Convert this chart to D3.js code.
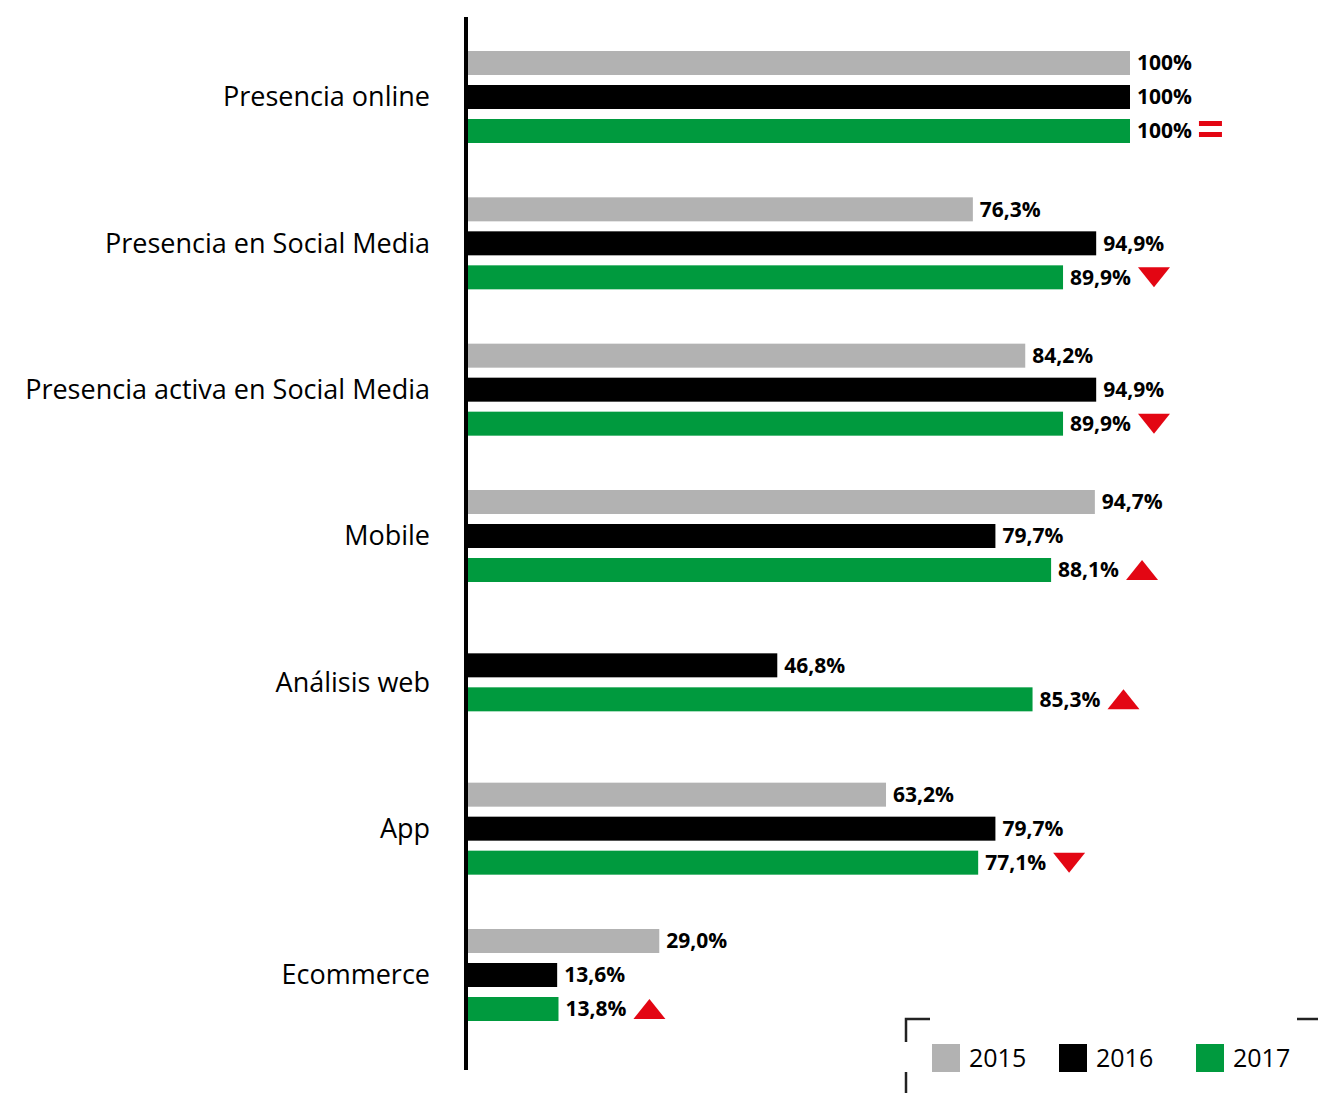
<!DOCTYPE html>
<html>
<head>
<meta charset="utf-8">
<style>
  body { margin: 0; background: #fff; }
  text { font-family: "Open Sans", Lato, sans-serif; }
</style>
</head>
<body>
<script src="https://cdn.jsdelivr.net/npm/d3@7"></script>
<script>
var categories = ['Presencia online', 'Presencia en Social Media', 'Presencia activa en Social Media',
                  'Mobile', 'Análisis web', 'App', 'Ecommerce'];
var years = ['2015', '2016', '2017'];
var values2015 = [100, 76.3, 84.2, 94.7, null, 63.2, 29.0];
var values2016 = [100, 94.9, 94.9, 79.7, 46.8, 79.7, 13.6];
var values2017 = [100, 89.9, 89.9, 88.1, 85.3, 77.1, 13.8];
var trend2017 = ['eq', 'down', 'down', 'up', 'up', 'down', 'up'];
var colors = ['#b2b2b2', '#000000', '#009a3e'];

var width = 1318, height = 1093;
var svg = d3.select('body').append('svg')
    .attr('width', width).attr('height', height);

var axisX = 467;
var xScale = d3.scaleLinear().domain([0, 100]).range([axisX, 1130]);
var yScale = d3.scalePoint().domain(categories).range([97, 975]);
var barH = 24, barStep = 34;

var series = [values2015, values2016, values2017];
var fmt = function (v) {
    return v === 100 ? '100%' : d3.format('.1f')(v).replace('.', ',') + '%';
};

categories.forEach(function (cat, i) {
    var rows = [];
    series.forEach(function (s, k) { if (s[i] != null) rows.push({ k: k, v: s[i] }); });
    var cy = yScale(cat);
    var offset = (rows.length - 1) / 2;
    var g = svg.append('g');
    rows.forEach(function (r, j) {
        var y = cy + (j - offset) * barStep;
        g.append('rect')
            .attr('x', axisX).attr('y', y - barH / 2)
            .attr('width', xScale(r.v) - axisX).attr('height', barH)
            .attr('fill', colors[r.k]);
        var t = g.append('text')
            .attr('x', xScale(r.v) + 7).attr('y', y)
            .attr('dy', '0.35em')
            .attr('font-size', 21).attr('font-weight', 'bold')
            .text(fmt(r.v));
        if (r.k === 2) {
            var tx = xScale(r.v) + 7 + t.node().getComputedTextLength() + 7;
            var tr = trend2017[i];
            if (tr === 'eq') {
                g.append('rect').attr('x', tx).attr('y', y - 10).attr('width', 23).attr('height', 5).attr('fill', '#e30613');
                g.append('rect').attr('x', tx).attr('y', y + 1).attr('width', 23).attr('height', 5).attr('fill', '#e30613');
            } else if (tr === 'down') {
                g.append('path')
                    .attr('d', 'M' + tx + ',' + (y - 10) + 'h32l-16,20z')
                    .attr('fill', '#e30613');
            } else {
                g.append('path')
                    .attr('d', 'M' + tx + ',' + (y + 10) + 'h32l-16,-20z')
                    .attr('fill', '#e30613');
            }
        }
    });
    svg.append('text')
        .attr('x', 430).attr('y', cy)
        .attr('dy', '0.35em')
        .attr('text-anchor', 'end')
        .attr('font-size', 27)
        .text(cat);
});

// axis line
svg.append('line')
    .attr('x1', axisX - 1).attr('x2', axisX - 1)
    .attr('y1', 17).attr('y2', 1070)
    .attr('stroke', '#000').attr('stroke-width', 4);

// legend frame (partial, dashed look)
var frame = svg.append('g').attr('stroke', '#222').attr('stroke-width', 2.5).attr('fill', 'none');
frame.append('path').attr('d', 'M906,1042V1019H930');
frame.append('path').attr('d', 'M906,1072V1093');
frame.append('path').attr('d', 'M1297,1019H1318');

var legendX = [932, 1059, 1196];
years.forEach(function (yr, k) {
    svg.append('rect')
        .attr('x', legendX[k]).attr('y', 1044)
        .attr('width', 28).attr('height', 28)
        .attr('fill', colors[k]);
    svg.append('text')
        .attr('x', legendX[k] + 37).attr('y', 1058)
        .attr('dy', '0.35em')
        .attr('font-size', 25)
        .text(yr);
});
</script>
</body>
</html>
